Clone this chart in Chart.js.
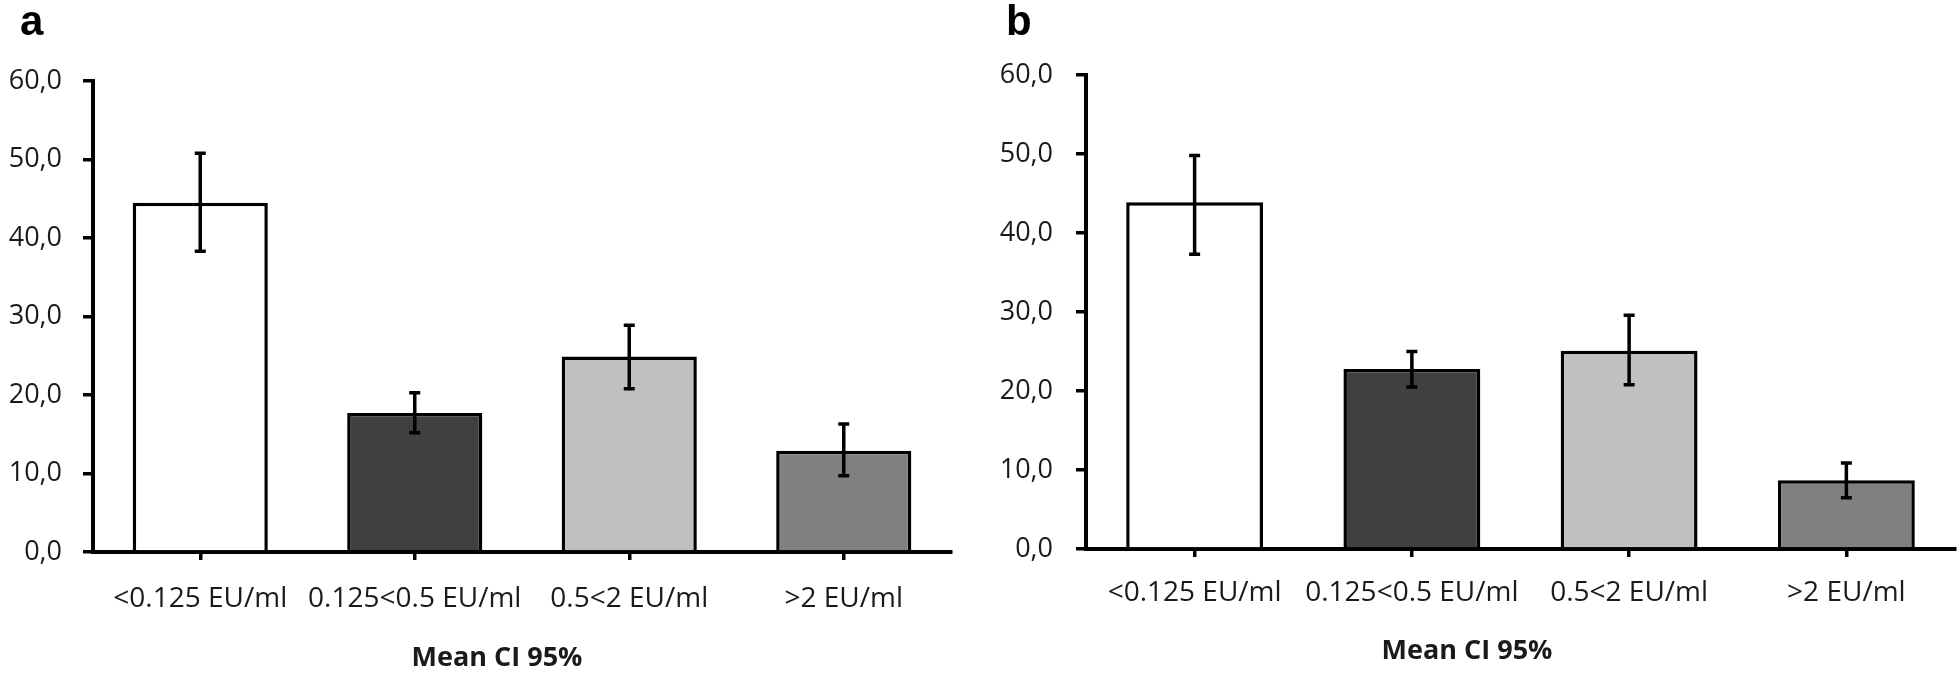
<!DOCTYPE html>
<html lang="en">

<head>
    <meta charset="UTF-8">
    <title>Mean CI 95%</title>
    <script src="https://cdn.jsdelivr.net/npm/chart.js"></script>
    <style>
        body { margin: 0; background: #fff; }
        .panel { position: absolute; top: 0; width: 980px; height: 675px; }
        .letter {
            position: absolute; top: 0; font: bold 42px "Liberation Sans", Arial, sans-serif;
            line-height: 42px; color: #000;
        }
        .xtitle {
            position: absolute; width: 400px; text-align: center;
            font: bold 27px "Open Sans", sans-serif; line-height: 27px; color: #1a1a1a;
        }
    </style>
</head>

<body>
    <div class="panel" style="left:0"><canvas id="chartA"></canvas></div>
    <div class="panel" style="left:980px"><canvas id="chartB"></canvas></div>
    <div class="letter" style="left:20px">a</div>
    <div class="letter" style="left:1006px">b</div>
    <div class="xtitle" id="titleA" style="left:297px; top:642px"></div>
    <div class="xtitle" id="titleB" style="left:1267px; top:635px"></div>

    <script>
        // categories and values (mean with 95% CI)
        const categories = ["<0.125 EU/ml", "0.125<0.5 EU/ml", "0.5<2 EU/ml", ">2 EU/ml"];
        const barColors = ["#ffffff", "#404040", "#c0c0c0", "#808080"];

        const meanA = [44.5, 17.7, 24.9, 12.9];
        const lowA = [38.3, 15.2, 20.8, 9.7];
        const highA = [50.8, 20.3, 28.9, 16.3];

        const meanB = [43.9, 22.8, 25.1, 8.7];
        const lowB = [37.3, 20.5, 20.8, 6.5];
        const highB = [49.8, 25.0, 29.6, 10.9];

        const yMin = 0, yMax = 60, yStep = 10;
        const xTitle = "Mean CI 95%";

        const fontFam = "'Open Sans', sans-serif";

        // draws the CI whiskers with the chart's own scales
        const errorBars = {
            id: "errorBars",
            afterDatasetsDraw(chart, args, opts) {
                const ctx = chart.ctx;
                const y = chart.scales.y;
                const meta = chart.getDatasetMeta(0);
                ctx.save();
                ctx.strokeStyle = "#000";
                ctx.lineWidth = 3.5;
                meta.data.forEach((bar, i) => {
                    const yLo = y.getPixelForValue(opts.low[i]);
                    const yHi = y.getPixelForValue(opts.high[i]);
                    ctx.beginPath();
                    ctx.moveTo(bar.x, yLo);
                    ctx.lineTo(bar.x, yHi);
                    ctx.moveTo(bar.x - 5.5, yLo);
                    ctx.lineTo(bar.x + 5.5, yLo);
                    ctx.moveTo(bar.x - 5.5, yHi);
                    ctx.lineTo(bar.x + 5.5, yHi);
                    ctx.stroke();
                });
                ctx.restore();
            }
        };

        function criarGrafico(id, mean, low, high, lay) {
            new Chart(document.getElementById(id), {
                type: "bar",
                data: {
                    labels: categories,
                    datasets: [{
                        data: mean,
                        backgroundColor: barColors,
                        borderColor: "#000",
                        borderWidth: 3.5,
                        barPercentage: 0.63,
                        categoryPercentage: 1
                    }]
                },
                options: {
                    responsive: false,
                    animation: false,
                    layout: { padding: { left: 0, right: lay.right, top: lay.top, bottom: 0 } },
                    plugins: {
                        legend: { display: false },
                        tooltip: { enabled: false },
                        title: { display: false },
                        errorBars: { low: low, high: high }
                    },
                    scales: {
                        x: {
                            z: 1,
                            afterFit: s => { s.height = lay.xHeight; },
                            grid: {
                                display: true, drawOnChartArea: false, offset: false,
                                color: "#000", lineWidth: 3.5, tickLength: 8
                            },
                            border: { display: true, color: "#000", width: 4 },
                            ticks: {
                                color: "#1a1a1a", padding: lay.xPad,
                                font: { family: fontFam, size: 28 },
                                maxRotation: 0, autoSkip: false
                            }
                        },
                        y: {
                            z: 1,
                            min: yMin, max: yMax,
                            afterFit: s => { s.width = lay.yWidth; },
                            grid: {
                                display: true, drawOnChartArea: false,
                                color: "#000", lineWidth: 3.5, tickLength: 10
                            },
                            border: { display: true, color: "#000", width: 4 },
                            ticks: {
                                stepSize: yStep, color: "#1a1a1a", padding: lay.tickPad,
                                font: { family: fontFam, size: 27 },
                                callback: v => v.toFixed(1).replace(".", ",")
                            }
                        }
                    }
                },
                plugins: [errorBars]
            });
        }

        function setup(id) {
            const c = document.getElementById(id);
            c.width = 980; c.height = 675;
            c.style.width = "980px"; c.style.height = "675px";
        }

        window.onload = function () {
            document.getElementById("titleA").textContent = xTitle;
            document.getElementById("titleB").textContent = xTitle;
            setup("chartA");
            setup("chartB");
            criarGrafico("chartA", meanA, lowA, highA,
                { right: 29, top: 81, yWidth: 93, xHeight: 123, tickPad: 21, xPad: 22 });
            criarGrafico("chartB", meanB, lowB, highB,
                { right: 5, top: 75, yWidth: 106, xHeight: 126, tickPad: 23, xPad: 19 });
        };
    </script>
</body>

</html>
